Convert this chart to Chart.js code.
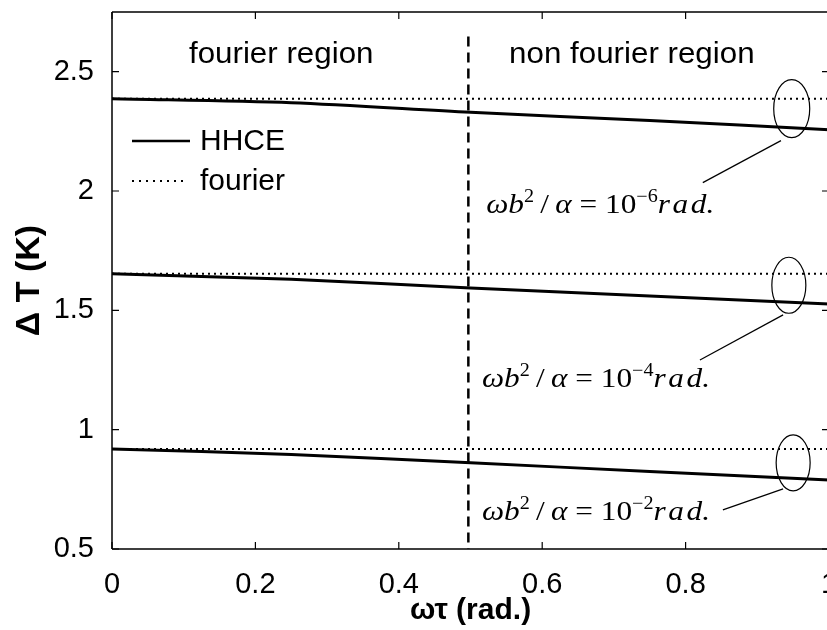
<!DOCTYPE html>
<html>
<head>
<meta charset="utf-8">
<script src="https://cdn.jsdelivr.net/npm/chart.js@4.4.1/dist/chart.umd.min.js"></script>
<style>
  html, body { margin: 0; padding: 0; background: #fff; overflow: hidden; }
  #wrap { width: 830px; height: 630px; }
</style>
</head>
<body>
<div id="wrap"><canvas id="tempChart"></canvas></div>
<script>
// ΔT versus ωτ for three values of ωb²/α
const omegaTau = [0, 0.25, 0.5, 0.75, 1];
const hhce6 = [2.387, 2.370, 2.330, 2.295, 2.257];
const hhce4 = [1.653, 1.630, 1.594, 1.560, 1.527];
const hhce2 = [0.919, 0.896, 0.861, 0.825, 0.789];

const fourierX = [0, 1];
const fourier6 = [2.387, 2.387];
const fourier4 = [1.653, 1.653];
const fourier2 = [0.919, 0.919];

const xTicks = [0, 0.2, 0.4, 0.6, 0.8, 1];
const yTicks = [0.5, 1, 1.5, 2, 2.5];
const regionBoundary = 0.497;
const regionLabels = ['fourier region', 'non fourier region'];
const exponents = [-6, -4, -2];

const SANS = '"Liberation Sans", Arial, Helvetica, sans-serif';
const SERIF = '"Liberation Serif", "Times New Roman", serif';

const pts = (xs, ys) => xs.map((x, i) => ({ x: x, y: ys[i] }));

const solid = (data) => ({
  label: 'HHCE', data: data, borderColor: '#000', borderWidth: 3,
  pointRadius: 0, tension: 0.3, fill: false
});
const dotted = (data) => ({
  label: 'fourier', data: data, borderColor: '#000', borderWidth: 2,
  borderDash: [2, 4], pointRadius: 0, fill: false
});

// callouts for each curve group: ellipse (data centre, px radii), leader line, label
const callouts = [
  { cx: 0.948, cy: 2.345, rx: 18, ry: 29, from: [0.933, 2.211], to: [0.824, 2.035], tx: 0.522, ty: 1.909 },
  { cx: 0.944, cy: 1.605, rx: 17, ry: 28, from: [0.936, 1.481], to: [0.820, 1.292], tx: 0.516, ty: 1.179 },
  { cx: 0.950, cy: 0.861, rx: 17, ry: 28, from: [0.936, 0.752], to: [0.852, 0.664], tx: 0.516, ty: 0.622 }
];

function drawMath(ctx, x, y, exp, width) {
  const size = 28;
  const it = 'italic ' + size + 'px ' + SERIF;
  const up = size + 'px ' + SERIF;
  const sup = Math.round(size * 0.66) + 'px ' + SERIF;
  const runs = [
    [it, 'ωb', 0], [sup, '2', -11], [up, '\u2009/\u2009', 0], [it, 'α', 0],
    [up, ' = 10', 0], [sup, '−' + Math.abs(exp), -11], [it, 'r\u200Aa\u200Ad.', 0]
  ];
  let total = 0;
  runs.forEach(r => { ctx.font = r[0]; total += ctx.measureText(r[1]).width; });
  ctx.save();
  ctx.translate(x, y);
  ctx.scale(width / total, 1);
  ctx.textAlign = 'left';
  ctx.textBaseline = 'alphabetic';
  let cx = 0;
  runs.forEach(r => {
    ctx.font = r[0];
    ctx.fillText(r[1], cx, r[2]);
    cx += ctx.measureText(r[1]).width;
  });
  ctx.restore();
}

const decorations = {
  id: 'decorations',
  afterDatasetsDraw(chart) {
    const { ctx, chartArea: a, scales: { x, y } } = chart;
    ctx.save();
    ctx.strokeStyle = '#000';
    ctx.fillStyle = '#000';

    // axes box
    ctx.lineWidth = 1.5;
    ctx.beginPath();
    ctx.moveTo(a.left, a.top); ctx.lineTo(a.right, a.top);
    ctx.moveTo(a.left, a.top); ctx.lineTo(a.left, a.bottom);
    ctx.moveTo(a.left, a.bottom); ctx.lineTo(a.right, a.bottom);
    ctx.moveTo(a.right, a.top); ctx.lineTo(a.right, a.bottom);
    ctx.stroke();

    // inward tick marks on all four sides
    ctx.lineWidth = 1.2;
    ctx.beginPath();
    xTicks.forEach(v => {
      const px = x.getPixelForValue(v);
      ctx.moveTo(px, a.bottom); ctx.lineTo(px, a.bottom - 7);
      ctx.moveTo(px, a.top); ctx.lineTo(px, a.top + 7);
    });
    yTicks.forEach(v => {
      const py = y.getPixelForValue(v);
      ctx.moveTo(a.left, py); ctx.lineTo(a.left + 7, py);
      ctx.moveTo(a.right, py); ctx.lineTo(a.right - 7, py);
    });
    ctx.stroke();

    // boundary between the two regions
    ctx.lineWidth = 2.5;
    ctx.setLineDash([10, 6]);
    ctx.beginPath();
    ctx.moveTo(x.getPixelForValue(regionBoundary), y.getPixelForValue(2.647));
    ctx.lineTo(x.getPixelForValue(regionBoundary), a.bottom);
    ctx.stroke();
    ctx.setLineDash([]);

    // region labels
    ctx.font = '29px ' + SANS;
    ctx.textAlign = 'center';
    ctx.textBaseline = 'alphabetic';
    [0.236, 0.725].forEach((v, i) => {
      const px = x.getPixelForValue(v), py = y.getPixelForValue(2.538);
      ctx.save();
      ctx.translate(px, py);
      ctx.scale(1.08, 1);
      ctx.fillText(regionLabels[i], 0, 0);
      ctx.restore();
    });

    // legend
    const lx = a.left + 20, ly1 = a.top + 129, ly2 = a.top + 169;
    ctx.lineWidth = 2.5;
    ctx.beginPath();
    ctx.moveTo(lx, ly1); ctx.lineTo(lx + 58, ly1);
    ctx.stroke();
    ctx.lineWidth = 2;
    ctx.setLineDash([2, 5]);
    ctx.beginPath();
    ctx.moveTo(lx, ly2); ctx.lineTo(lx + 54, ly2);
    ctx.stroke();
    ctx.setLineDash([]);
    ctx.font = '30px ' + SANS;
    ctx.textAlign = 'left';
    ctx.textBaseline = 'middle';
    ctx.fillText(chart.data.datasets[0].label, lx + 68, ly1 + 1);
    ctx.fillText(chart.data.datasets[1].label, lx + 68, ly2 + 1);

    // callouts
    ctx.lineWidth = 1.2;
    callouts.forEach((c, i) => {
      ctx.beginPath();
      ctx.ellipse(x.getPixelForValue(c.cx), y.getPixelForValue(c.cy), c.rx, c.ry, 0, 0, Math.PI * 2);
      ctx.stroke();
      ctx.beginPath();
      ctx.moveTo(x.getPixelForValue(c.from[0]), y.getPixelForValue(c.from[1]));
      ctx.lineTo(x.getPixelForValue(c.to[0]), y.getPixelForValue(c.to[1]));
      ctx.stroke();
      drawMath(ctx, x.getPixelForValue(c.tx), y.getPixelForValue(c.ty), exponents[i], 228);
    });

    ctx.restore();
  }
};

new Chart(document.getElementById('tempChart'), {
  type: 'line',
  data: {
    datasets: [
      solid(pts(omegaTau, hhce6)),
      dotted(pts(fourierX, fourier6)),
      solid(pts(omegaTau, hhce4)),
      dotted(pts(fourierX, fourier4)),
      solid(pts(omegaTau, hhce2)),
      dotted(pts(fourierX, fourier2))
    ]
  },
  options: {
    responsive: true,
    maintainAspectRatio: false,
    animation: false,
    layout: { padding: { top: 12, right: 1, left: 0, bottom: 0 } },
    plugins: { legend: { display: false }, tooltip: { enabled: false } },
    scales: {
      x: {
        type: 'linear', min: 0, max: 1,
        grid: { display: false }, border: { display: false },
        afterBuildTicks: s => { s.ticks = xTicks.map(v => ({ value: v })); },
        afterFit: s => { s.height = 81; s.paddingLeft = 0; s.paddingRight = 0; },
        ticks: {
          autoSkip: false, maxRotation: 0, padding: 11, color: '#000',
          font: { family: SANS, size: 29 },
          callback: v => String(v)
        },
        title: {
          display: true, text: 'ωτ (rad.)', color: '#000',
          font: { family: SANS, size: 30, weight: 'bold' },
          padding: { top: 0, bottom: 1 }
        }
      },
      y: {
        type: 'linear', min: 0.5, max: 2.75,
        grid: { display: false }, border: { display: false },
        afterBuildTicks: s => { s.ticks = yTicks.map(v => ({ value: v })); },
        afterFit: s => { s.width = 112; s.paddingTop = 0; s.paddingBottom = 0; },
        ticks: {
          autoSkip: false, padding: 10, color: '#000',
          font: { family: SANS, size: 29 },
          callback: v => String(v)
        },
        title: {
          display: true, text: 'Δ T (K)', color: '#000',
          font: { family: SANS, size: 34, weight: 'bold' },
          padding: { top: 9, bottom: 0 }
        }
      }
    }
  },
  plugins: [decorations]
});
</script>
</body>
</html>
